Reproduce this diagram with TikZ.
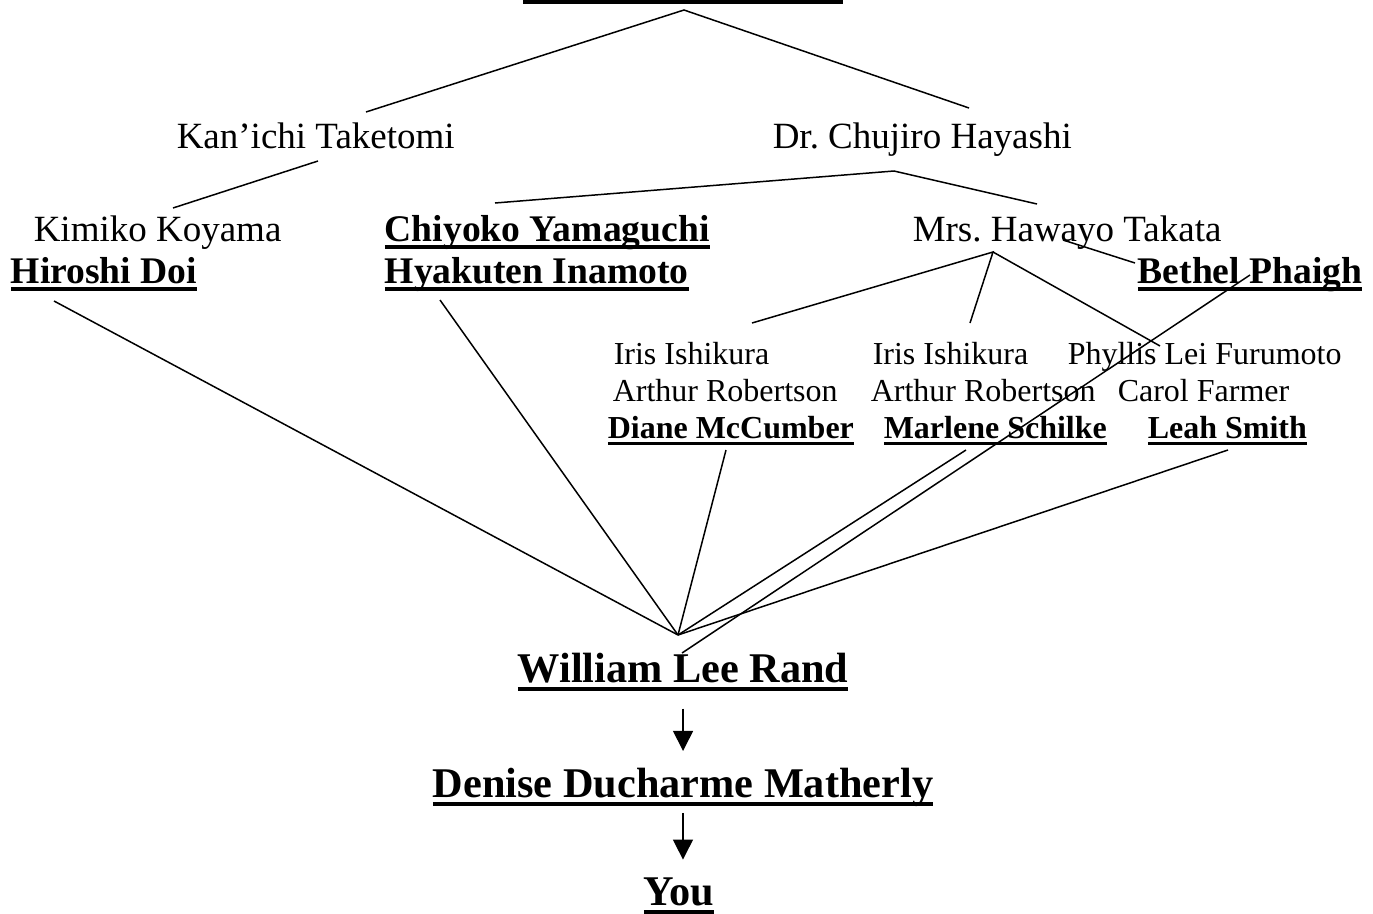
\documentclass[tikz,border=0pt]{standalone}
\usepackage{fontspec}
\setmainfont{Liberation Serif}
\usetikzlibrary{arrows.meta}
\newsavebox\undrbox
\newcommand\undr[1]{\sbox\undrbox{#1}\rlap{\rule[-0.21em]{\wd\undrbox}{0.1em}}\usebox\undrbox}
\frenchspacing

\begin{document}
\begin{tikzpicture}[
    x=1pt, y=-1pt,
    line width=1.5pt,
    person/.style={inner sep=0pt, anchor=base west, font=\fontsize{37pt}{40pt}\selectfont},
    bperson/.style={person, font=\fontsize{37.6pt}{40pt}\selectfont\bfseries},
    sperson/.style={person, font=\fontsize{32pt}{36pt}\selectfont},
    sbperson/.style={person, font=\fontsize{32pt}{36pt}\selectfont\bfseries},
    bigperson/.style={person, font=\fontsize{42.3pt}{46pt}\selectfont\bfseries},
    handoff/.style={-{Triangle[width=20pt,length=20pt]}}
    ]
  \useasboundingbox (0,0) rectangle (1373,913);
  % underline of the cut-off head of the line
  \fill (523,-1) rectangle (843,4);
  \coordinate (root) at (684,10);

  % first generation
  \node [person] (kanichi) at (176,148) {Kan’ichi Taketomi};
  \node [person] (hayashi) at (772,148) {Dr. Chujiro Hayashi};

  % second generation
  \node [person] (kimiko) at (33,241) {Kimiko Koyama};
  \node [bperson] (hiroshi) at (10,283) {\undr{Hiroshi Doi}};
  \node [bperson] (chiyoko) at (384,241) {\undr{Chiyoko Yamaguchi}};
  \node [bperson] (hyakuten) at (384,283) {\undr{Hyakuten Inamoto}};
  \node [person] (takata) at (912,241) {Mrs. Hawayo Takata};
  \node [bperson] (bethel) at (1137,283) {\undr{Bethel Phaigh}};

  % Takata's lines
  \node [sperson] (iris1) at (613,364) {Iris Ishikura};
  \node [sperson] (arthur1) at (612,401) {Arthur Robertson};
  \node [sbperson] (diane) at (607,438) {\undr{Diane McCumber}};
  \node [sperson] (iris2) at (872,364) {Iris Ishikura};
  \node [sperson] (arthur2) at (870,401) {Arthur Robertson};
  \node [sbperson] (marlene) at (883,438) {\undr{Marlene Schilke}};
  \node [sperson] (phyllis) at (1067,364) {Phyllis Lei Furumoto};
  \node [sperson] (carol) at (1117,401) {Carol Farmer};
  \node [sbperson] (leah) at (1147,438) {\undr{Leah Smith}};

  % bottom
  \node [bigperson] (rand) at (517,682) {\undr{William Lee Rand}};
  \node [bigperson] (denise) at (432,797) {\undr{Denise Ducharme Matherly}};
  \node [bigperson] (you) at (643,905) {\undr{You}};

  % line ends
  \coordinate (kanichi-n) at (366,112);
  \coordinate (hayashi-n) at (969,108);
  \coordinate (kanichi-s) at (318,161);
  \coordinate (kimiko-n) at (173,208);
  \coordinate (hayashi-s) at (894,171);
  \coordinate (chiyoko-n) at (495,203);
  \coordinate (takata-n) at (1037,204);
  \coordinate (takata-e) at (1063,240);
  \coordinate (bethel-w) at (1135,263);
  \coordinate (takata-s) at (993,252);
  \coordinate (diane-n) at (752,323);
  \coordinate (marlene-n) at (970,323);
  \coordinate (leah-n) at (1160,346);
  \coordinate (bethel-s) at (1250,275);
  \coordinate (rand-n) at (682,653);
  \coordinate (rand-top) at (678,635);
  \coordinate (hiroshi-s) at (54,301);
  \coordinate (hyakuten-s) at (440,300);
  \coordinate (diane-s) at (726,450);
  \coordinate (marlene-s) at (966,450);
  \coordinate (leah-s) at (1228,450);

  \draw (kanichi-n) -- (root) -- (hayashi-n);
  \draw (kanichi-s) -- (kimiko-n);
  \draw (chiyoko-n) -- (hayashi-s) -- (takata-n);
  \draw (takata-e) -- (bethel-w);
  \draw (diane-n) -- (takata-s) -- (marlene-n);
  \draw (takata-s) -- (leah-n);
  \draw (bethel-s) -- (rand-n);
  \foreach \src in {hiroshi-s,hyakuten-s,diane-s,marlene-s,leah-s}
    \draw (\src) -- (rand-top);

  \draw [handoff, shorten <=17pt, shorten >=16pt] (rand.south) -- (rand.south |- denise.north);
  \draw [handoff, shorten <=6pt, shorten >=17pt] (denise.south) -- (denise.south |- you.north);
\end{tikzpicture}
\end{document}
